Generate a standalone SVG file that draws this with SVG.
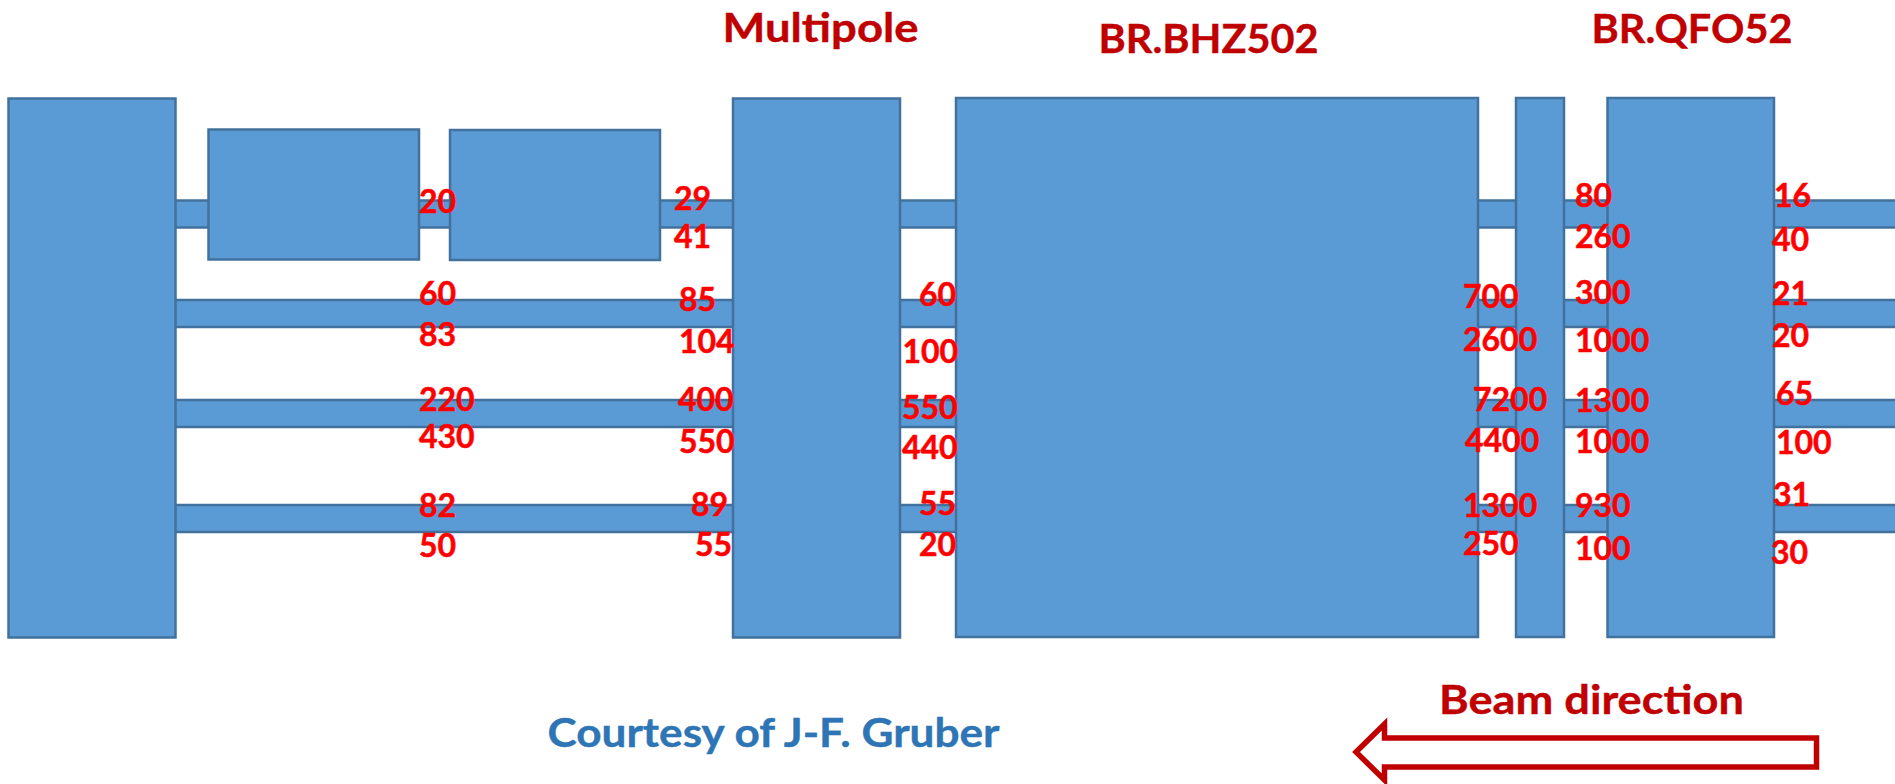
<svg xmlns="http://www.w3.org/2000/svg" width="1895" height="784" viewBox="0 0 1895 784">
<style>
text{font-family:"Lato","Open Sans","Liberation Sans",sans-serif;font-weight:700}
.n{fill:#5B9BD5;stroke:#41719C;stroke-width:2.5}
.v{fill:#FF0000;stroke:#FF0000;stroke-width:.5;font-size:32px}
.t{fill:#C00000;stroke:#C00000;stroke-width:.4;font-size:41px}
</style>
<rect width="1895" height="784" fill="#fff"/>
<g id="connectors">
<rect class="n" x="170" y="200.500" width="1740" height="27"/>
<rect class="n" x="170" y="300" width="1740" height="27"/>
<rect class="n" x="170" y="400" width="1740" height="27"/>
<rect class="n" x="170" y="505" width="1740" height="27"/>
</g>
<g id="node-left"><rect class="n" x="8.500" y="98.500" width="167" height="539"/></g>
<g id="node-box2"><rect class="n" x="208.500" y="129.500" width="210.500" height="130"/></g>
<g id="node-box3"><rect class="n" x="450" y="130" width="210" height="130"/></g>
<g id="node-multipole"><rect class="n" x="733" y="98.500" width="167" height="539"/><text class="t" x="722.500" y="42" textLength="196" lengthAdjust="spacingAndGlyphs">Multipole</text></g>
<g id="node-bhz"><rect class="n" x="956" y="98" width="522" height="539"/><text class="t" x="1098.500" y="53" textLength="220" lengthAdjust="spacingAndGlyphs">BR.BHZ502</text></g>
<g id="node-thin"><rect class="n" x="1516" y="98" width="48" height="539"/></g>
<g id="node-qfo"><rect class="n" x="1607.500" y="98" width="166.500" height="539"/><text class="t" x="1591.500" y="43" textLength="201" lengthAdjust="spacingAndGlyphs">BR.QFO52</text></g>
<g id="labels">
<text class="v" x="419" y="213">20</text><text class="v" x="419" y="305">60</text><text class="v" x="419" y="346">83</text><text class="v" x="419" y="411">220</text><text class="v" x="419" y="448">430</text><text class="v" x="419" y="517">82</text><text class="v" x="419" y="557">50</text>
<text class="v" x="674" y="210">29</text><text class="v" x="674" y="248">41</text><text class="v" x="679" y="311">85</text><text class="v" x="679" y="353">104</text><text class="v" x="678" y="411">400</text><text class="v" x="679" y="453">550</text><text class="v" x="691" y="516">89</text><text class="v" x="695" y="556">55</text>
<text class="v" x="919" y="306">60</text><text class="v" x="902.500" y="363">100</text><text class="v" x="902" y="419">550</text><text class="v" x="902" y="459">440</text><text class="v" x="919" y="515">55</text><text class="v" x="919" y="556">20</text>
<text class="v" x="1463" y="308">700</text><text class="v" x="1463" y="351">2600</text><text class="v" x="1473" y="411">7200</text><text class="v" x="1465" y="452">4400</text><text class="v" x="1463" y="517">1300</text><text class="v" x="1463" y="555">250</text>
<text class="v" x="1575" y="207">80</text><text class="v" x="1575" y="248">260</text><text class="v" x="1575" y="304">300</text><text class="v" x="1575" y="352">1000</text><text class="v" x="1575" y="412">1300</text><text class="v" x="1575" y="453">1000</text><text class="v" x="1575" y="517">930</text><text class="v" x="1575" y="560">100</text>
<text class="v" x="1774" y="207">16</text><text class="v" x="1772" y="251">40</text><text class="v" x="1772" y="305">21</text><text class="v" x="1772" y="347">20</text><text class="v" x="1776" y="405">65</text><text class="v" x="1776" y="454">100</text><text class="v" x="1773" y="506">31</text><text class="v" x="1771" y="564">30</text>
<text class="t" x="1439" y="714" textLength="305" lengthAdjust="spacingAndGlyphs">Beam direction</text>
<text x="547.500" y="747" textLength="452" lengthAdjust="spacingAndGlyphs" style="fill:#2E75B6;stroke:#2E75B6;stroke-width:.4;font-size:41px">Courtesy of J-F. Gruber</text>
</g>
<polygon id="beam-arrow" points="1816.500,738 1384.500,738 1384.500,724 1356,752 1384.500,780 1384.500,767 1816.500,767" fill="#fff" stroke="#C00000" stroke-width="5.500"/>
</svg>
